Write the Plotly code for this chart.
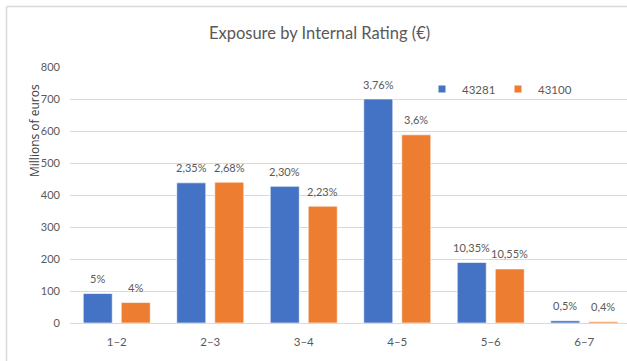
import plotly.graph_objects as go

# Rating buckets and exposure (millions of euros) for the two reporting dates
ratings = ["1–2", "2–3", "3–4", "4–5", "5–6", "6–7"]
series_names = ["43281", "43100"]
exposure_43281 = [92, 438, 427, 700, 189, 7]
exposure_43100 = [64, 440, 365, 588, 169, 4]
pct_43281 = ["5%", "2,35%", "2,30%", "3,76%", "10,35%", "0,5%"]
pct_43100 = ["4%", "2,68%", "2,23%", "3,6%", "10,55%", "0,4%"]
y_ticks = [0, 100, 200, 300, 400, 500, 600, 700, 800]

BLUE = "#4472C4"
ORANGE = "#ED7D31"
GRID = "#D9D9D9"
TXT = "#595959"
FONT = "Lato, Roboto, sans-serif"

W, H = 627, 361
L, T, B = 70, 67, 38
plot_w = W - L
plot_h = H - T - B
CAT_PX = 93.5  # pixel width of one rating bucket


def px_x(p):
    return (p - L) / plot_w


def px_y(p):
    return (H - B - p) / plot_h


fig = go.Figure()
series = [
    (series_names[0], exposure_43281, pct_43281, BLUE, -19),
    (series_names[1], exposure_43100, pct_43100, ORANGE, 19),
]
annotations = []
for name, vals, labels, color, shift in series:
    fig.add_trace(go.Bar(
        x=ratings, y=vals, name=name, showlegend=False,
        marker=dict(color=color, line=dict(color="rgba(255,255,255,0.6)", width=1)),
    ))
    # small square legend key for this series
    fig.add_trace(go.Scatter(
        x=[None], y=[None], mode="markers", name=name,
        marker=dict(symbol="square", size=7, color=color),
    ))
    # percentage labels above each bar
    for cat, v, lab in zip(ratings, vals, labels):
        annotations.append(dict(
            x=cat, y=v, xref="x", yref="y", text=lab, showarrow=False,
            xshift=shift, yshift=15, xanchor="center", yanchor="middle",
            font=dict(family=FONT, size=11, color=TXT),
        ))

annotations.append(dict(
    text="Millions of euros", textangle=-90, xref="paper", yref="paper",
    x=px_x(34), y=px_y(131), showarrow=False, xanchor="center", yanchor="middle",
    font=dict(family="Open Sans, DejaVu Sans, sans-serif", size=12, color="#404040"),
))

fig.update_layout(
    width=W, height=H,
    margin=dict(l=L, r=0, t=T, b=B, autoexpand=False),
    paper_bgcolor="white", plot_bgcolor="white",
    barmode="group", bargap=0.187, bargroupgap=0.237,
    font=dict(family=FONT, color=TXT),
    title=dict(text="Exposure by Internal Rating (€)", x=319.5 / W, xanchor="center",
               y=1 - 33 / H, yanchor="middle",
               font=dict(family=FONT, size=16.5, color=TXT)),
    xaxis=dict(range=[-0.5, -0.5 + plot_w / CAT_PX], showgrid=False, zeroline=False,
               showline=False, ticks="", ticklabelstandoff=10,
               tickfont=dict(size=11.5, color=TXT)),
    yaxis=dict(range=[0, 800], tickvals=y_ticks, showgrid=True, gridcolor=GRID,
               gridwidth=1, zeroline=True, zerolinecolor=GRID, zerolinewidth=1,
               ticks="", ticklabelstandoff=9, tickfont=dict(size=11, color=TXT)),
    legend=dict(orientation="h", x=px_x(422), y=px_y(89), xanchor="left",
                yanchor="middle", bgcolor="rgba(0,0,0,0)",
                font=dict(size=11.5, color=TXT), entrywidth=31,
                entrywidthmode="pixels", itemwidth=30, traceorder="normal"),
    annotations=annotations,
    shapes=[
        dict(type="line", xref="paper", yref="paper", x0=px_x(6.5), x1=px_x(640),
             y0=px_y(6.5), y1=px_y(6.5), line=dict(color=GRID, width=1.5)),
        dict(type="line", xref="paper", yref="paper", x0=px_x(6.5), x1=px_x(6.5),
             y0=px_y(6.5), y1=px_y(370), line=dict(color=GRID, width=1.5)),
    ],
)

fig.write_html("out.html")
